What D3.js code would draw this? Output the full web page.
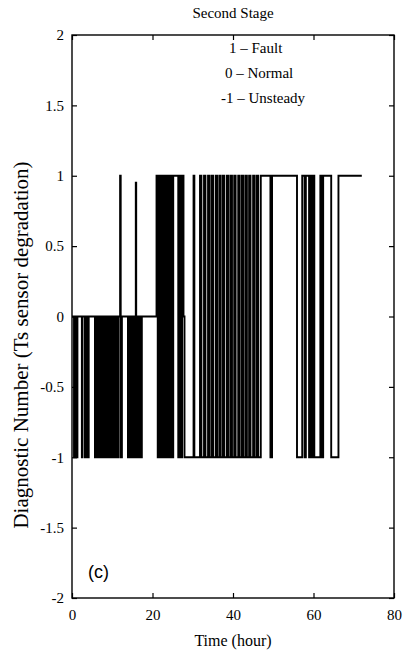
<!DOCTYPE html>
<html>
<head>
<meta charset="utf-8">
<script src="https://cdn.jsdelivr.net/npm/d3@7"></script>
<style>
  body { margin: 0; background: #fff; }
</style>
</head>
<body>
<div id="chart"></div>
<script>
// [time (hour), diagnostic number held from that time on]
const normalUnsteady = [
  [0, 0], [0.5, -1], [0.75, 0], [1.1, -1], [1.35, 0], [2.45, -1], [2.6, 0],
  [3.2, -1], [3.45, 0], [3.9, -1], [4.15, 0],
  [5.7, -1], [5.95, 0], [6.4, -1], [6.65, 0], [7.1, -1], [7.35, 0], [7.8, -1],
  [8.05, 0], [8.5, -1], [8.75, 0], [9.2, -1], [9.45, 0], [9.9, -1], [10.15, 0],
  [10.6, -1], [10.85, 0], [11.3, -1], [11.55, 0], [11.95, 1], [12.1, -1], [12.4, 0],
  [13.9, -1], [14.15, 0], [14.6, -1], [14.85, 0], [15.3, -1], [15.55, 0],
  [15.85, 0.95], [15.95, -1], [16.25, 0], [16.6, -1], [16.75, 0], [17.2, -1], [17.35, 0]
]
const faultUnsteady = [
  [21.0, 1], [21.3, -1], [21.7, 1], [22.0, -1], [22.4, 1], [22.7, -1],
  [23.1, 1], [23.4, -1], [23.8, 1], [24.1, -1], [24.5, 1], [24.8, -1], [25.15, 1],
  [26.4, -1], [26.65, 1], [27.1, -1], [27.35, 1], [27.7, 0], [27.95, -1],
  [30.2, 1], [30.4, -1],
  [31.8, 1], [32.15, -1], [32.8, 1], [33.15, -1], [33.8, 1], [34.15, -1],
  [34.7, 1], [35.05, -1], [35.7, 1], [36.05, -1], [36.6, 1], [36.95, -1],
  [37.5, 1], [37.85, -1], [38.5, 1], [38.85, -1], [39.4, 1], [39.75, -1],
  [40.3, 1], [40.65, -1], [41.3, 1], [41.65, -1], [42.2, 1], [42.55, -1],
  [43.1, 1], [43.45, -1], [44.0, 1], [44.35, -1], [45.0, 1], [45.35, -1],
  [45.9, 1], [46.25, -1], [46.9, 1], [49.3, -1], [49.7, 1]
]
const lateStage = [
  [55.9, -1], [57.2, 1], [57.8, -1], [58.1, 1], [58.9, -1], [59.2, 1],
  [59.5, -1], [59.9, 1], [60.2, -1], [61.7, 1], [62.0, -1], [62.4, 1],
  [64.4, -1], [66.2, 1], [72.0, 1]
]
const xTicks = [0, 20, 40, 60, 80]
const yTicks = [-2, -1.5, -1, -0.5, 0, 0.5, 1, 1.5, 2]
const legendLines = ["1 \u2013 Fault", "0 \u2013 Normal", "-1 \u2013 Unsteady"]

const WIDTH = 412
const HEIGHT = 656
const MARGINS = {left: 72, right: 18, top: 35, bottom: 58}
const TICK = 5
const SERIF = "Liberation Serif, DejaVu Serif, serif"

/*********************************************
// Scales
*********************************************/
const plotW = WIDTH - MARGINS.left - MARGINS.right
const plotH = HEIGHT - MARGINS.top - MARGINS.bottom
const x = d3.scaleLinear().domain([0, 80]).range([0, plotW])
const y = d3.scaleLinear().domain([-2, 2]).range([plotH, 0])

const svg = d3.select("#chart").append("svg")
  .attr("width", WIDTH)
  .attr("height", HEIGHT)

const plot = svg.append("g")
  .attr("transform", `translate(${MARGINS.left},${MARGINS.top})`)

/*********************************************
// Signal
*********************************************/
const series = normalUnsteady.concat(faultUnsteady, lateStage)
  .map((d) => ({t: d[0], v: d[1]}))

plot.append("path")
  .datum(series)
  .attr("fill", "none")
  .attr("stroke", "#000")
  .attr("stroke-width", 1.9)
  .attr("d", d3.line()
    .x((d) => x(d.t))
    .y((d) => y(d.v))
    .curve(d3.curveStepAfter))

/*********************************************
// Axes (box with inward ticks on all sides)
*********************************************/
function styleAxis(g) {
  g.select(".domain").remove()
  g.attr("font-family", SERIF).attr("font-size", 15)
  g.selectAll(".tick line").attr("stroke", "#000").attr("stroke-width", 1.2)
  g.selectAll(".tick text").attr("fill", "#000")
}

plot.append("g")
  .attr("transform", `translate(0,${plotH})`)
  .call(d3.axisBottom(x).tickValues(xTicks).tickSizeInner(-TICK).tickPadding(11).tickFormat(d3.format("d")))
  .call(styleAxis)

plot.append("g")
  .call(d3.axisTop(x).tickValues(xTicks).tickSizeInner(-TICK).tickFormat(""))
  .call(styleAxis)

plot.append("g")
  .call(d3.axisLeft(y).tickValues(yTicks).tickSizeInner(-TICK).tickPadding(8).tickFormat((d) => String(d)))
  .call(styleAxis)

plot.append("g")
  .attr("transform", `translate(${plotW},0)`)
  .call(d3.axisRight(y).tickValues(yTicks).tickSizeInner(-TICK).tickFormat(""))
  .call(styleAxis)

plot.append("rect")
  .attr("width", plotW)
  .attr("height", plotH)
  .attr("fill", "none")
  .attr("stroke", "#000")
  .attr("stroke-width", 1.4)

/*********************************************
// Labels
*********************************************/
svg.append("text")
  .text("Second Stage")
  .attr("x", MARGINS.left + plotW / 2)
  .attr("y", 18)
  .attr("text-anchor", "middle")
  .attr("font-family", SERIF)
  .attr("font-size", 15)

svg.append("text")
  .text("Time (hour)")
  .attr("x", MARGINS.left + plotW / 2)
  .attr("y", 646)
  .attr("text-anchor", "middle")
  .attr("font-family", SERIF)
  .attr("font-size", 16)

svg.append("text")
  .text("Diagnostic Number (Ts sensor degradation)")
  .attr("transform", `translate(28,345) rotate(-90)`)
  .attr("text-anchor", "middle")
  .attr("font-family", SERIF)
  .attr("font-size", 21)

plot.selectAll("text.legend")
  .data(legendLines).enter()
  .append("text")
  .classed("legend", true)
  .text((d) => d)
  .attr("x", (d, i) => x(39) - i * 4)
  .attr("y", (d, i) => y(1.87) + i * 25)
  .attr("font-family", SERIF)
  .attr("font-size", 15)

plot.append("text")
  .text("(c)")
  .attr("x", x(4))
  .attr("y", y(-1.86))
  .attr("font-family", "Liberation Sans, Arial, sans-serif")
  .attr("font-size", 18)
</script>
</body>
</html>
